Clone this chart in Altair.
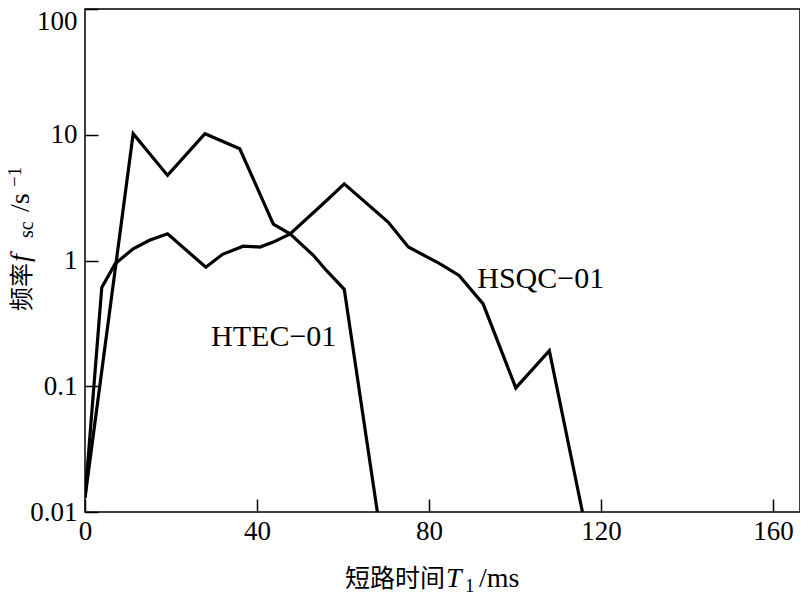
import altair as alt
import pandas as pd

# HTEC-01 series (time in ms, frequency in 1/s)
htec_t = [0, 11.2, 19.2, 27.9, 36.0, 43.8, 47.7, 53.1, 56.2, 60.3, 68.0]
htec_f = [0.013, 10.2, 4.75, 10.2, 7.74, 1.95, 1.63, 1.1, 0.83, 0.59, 0.01]

# HSQC-01 series
hsqc_t = [0, 3.9, 7.0, 11.2, 15.0, 19.2, 28.1, 32.0, 36.8, 40.7, 43.8, 47.7,
          56.2, 60.3, 70.5, 75.2, 82.6, 87.0, 92.6, 100.2, 108.0, 115.7]
hsqc_f = [0.013, 0.61, 0.94, 1.24, 1.45, 1.63, 0.885, 1.12, 1.30, 1.28, 1.40, 1.63,
          3.0, 4.07, 2.02, 1.28, 0.94, 0.76, 0.452, 0.097, 0.192, 0.01]

x_ticks = [0, 40, 80, 120, 160]
y_ticks = [0.01, 0.1, 1, 10, 100]

label_names = ["HTEC\u221201", "HSQC\u221201"]
label_t = [43.9, 106.0]
label_f = [0.248, 0.719]

df = pd.concat([
    pd.DataFrame({"t": htec_t, "f": htec_f, "series": "HTEC-01"}),
    pd.DataFrame({"t": hsqc_t, "f": hsqc_f, "series": "HSQC-01"}),
], ignore_index=True)

labels = pd.DataFrame({"t": label_t, "f": label_f, "name": label_names})

SERIF = "Liberation Serif"
CJK = "Noto Sans CJK SC"

x_scale = alt.Scale(domain=[0, 166.3], nice=False, zero=False)
y_scale = alt.Scale(type="log", domain=[0.01, 100], nice=False)

x_axis = alt.Axis(values=x_ticks, title=None, offset=-13, tickSize=13, domain=False,
                  grid=False, labelFont=SERIF, labelFontSize=27, labelColor="black",
                  labelPadding=6, tickColor="black", tickWidth=1.5, labelFlush=False)
y_axis = alt.Axis(values=y_ticks, format="~g", title=None, offset=-13, tickSize=13,
                  domain=False, grid=False, labelFont=SERIF, labelFontSize=27,
                  labelColor="black", labelPadding=8, tickColor="black", tickWidth=1.5,
                  labelFlush=False,
                  labelOffset={"condition": {"test": "datum.value == 100", "value": 12},
                               "value": 0})

lines = alt.Chart(df).mark_line(color="black", strokeWidth=3.2, clip=True).encode(
    x=alt.X("t:Q", scale=x_scale, axis=x_axis),
    y=alt.Y("f:Q", scale=y_scale, axis=y_axis),
    detail="series:N",
)

text_labels = alt.Chart(labels).mark_text(
    font=SERIF, fontSize=30, color="black", align="center", baseline="middle"
).encode(
    x=alt.X("t:Q", scale=x_scale),
    y=alt.Y("f:Q", scale=y_scale),
    text="name:N",
)


def piece(txt, x, y, font, size, style="normal", angle=0):
    kw = dict(font=font, fontSize=size, color="black", align="left",
              baseline="alphabetic", fontStyle=style)
    if angle:
        kw["angle"] = angle
    return alt.Chart(pd.DataFrame({"s": [txt]})).mark_text(**kw).encode(
        text="s:N", x=alt.value(x), y=alt.value(y))


# x-axis title: 短路时间 T1 /ms
xt = [
    piece("短路时间", 260, 578, CJK, 25),
    piece("T", 361, 578, SERIF, 28, "italic"),
    piece("1", 380, 583, SERIF, 19),
    piece("/ms", 394, 578, SERIF, 28),
]
# y-axis title: 频率 f_sc /s^-1 (rotated)
yt = [
    piece("频率", -55, 302, CJK, 24, angle=270),
    piece("f", -56, 253, SERIF, 28, "italic", angle=270),
    piece("sc", -52, 229, SERIF, 20, angle=270),
    piece("/s", -56, 203, SERIF, 28, angle=270),
    piece("\u22121", -64, 178, SERIF, 19, angle=270),
]

chart = alt.layer(lines, text_labels, *xt, *yt).properties(
    width=715, height=503, autosize="none",
    padding={"left": 77, "top": 1, "right": 0, "bottom": 81},
    background="white",
).configure_view(stroke="black", strokeWidth=1.5)

chart.save("out.html", embed_options={"renderer": "svg", "actions": False})
